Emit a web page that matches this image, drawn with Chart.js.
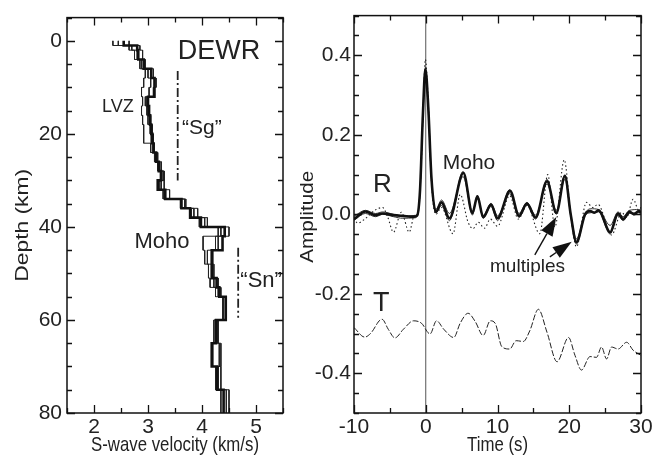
<!DOCTYPE html>
<html><head><meta charset="utf-8">
<script src="https://cdn.jsdelivr.net/npm/chart.js@4.4.0/dist/chart.umd.min.js"></script>
<style>
html,body{margin:0;padding:0;background:#fff;}
#wrap{position:relative;width:667px;height:455px;overflow:hidden;background:#fff;}
canvas{position:absolute;top:0;}
</style></head><body>
<div id="wrap">
<canvas id="left" width="300" height="455" style="left:0px"></canvas>
<canvas id="right" width="377" height="455" style="left:290px"></canvas>
</div>
<script>
// ---------- Left panel: S-wave velocity models (step profiles) ----------
const layerTops = [0,1,2,4,6,8,10,12,14,16,18,20,22,24,26,28,30,32,34,36,38,40,42,45,48,51,53,55,60,65,70,75];
const modelBottom = 80;
const velThick = [2.55,2.80,2.82,2.92,3.06,3.12,3.12,3.00,3.02,3.04,3.06,3.08,3.10,3.15,3.20,3.24,3.18,3.32,3.62,3.78,3.98,4.42,4.38,4.18,4.18,4.27,4.32,4.44,4.26,4.18,4.28,4.40];
const velThinB = [2.45,2.70,2.80,2.95,3.10,3.15,3.10,2.95,2.98,3.05,3.08,3.10,3.12,3.18,3.25,3.30,3.22,3.30,3.68,3.85,4.05,4.50,4.30,4.20,4.22,4.30,4.35,4.40,4.28,4.32,4.35,4.50];
const velThinC = [2.35,2.65,2.75,2.85,2.95,2.92,2.88,2.90,2.88,2.90,2.92,2.92,3.05,3.12,3.18,3.28,3.30,3.28,3.60,3.80,3.95,4.30,4.02,4.05,4.12,4.15,4.25,4.38,4.22,4.20,4.30,4.45];
const velThinD = [2.65,2.85,2.90,2.88,3.00,3.05,3.02,2.98,3.00,3.00,3.04,3.06,3.10,3.16,3.22,3.30,3.25,3.40,3.70,3.92,4.10,4.35,4.25,4.10,4.20,4.22,4.30,4.45,4.30,4.35,4.25,4.35];
const sgVel = 3.55, sgDepths = [6.5, 30];
const snVel = 4.67, snDepths = [44.5, 59.5];
const velTickLabels = [2,3,4,5];
const depthTickLabels = [0,20,40,60,80];

// ---------- Right panel: receiver functions ----------
const rThickT = [-10,-8.4,-7,-6,-4.5,-3.2,-1.6,-1.2,-0.8,-0.4,-0.05,0.35,0.8,1.4,2.2,3.3,5.25,6.5,7.2,8.0,9.1,10.0,11.75,13.0,14.1,15.3,16.9,18.2,19.4,20.2,21.0,22.2,22.9,23.5,24.1,25.7,26.8,27.5,28.4,29.0,29.7,30];
const rThickA = [-0.012,0.007,-0.002,0.002,-0.002,-0.004,-0.006,-0.003,0.06,0.25,0.365,0.27,0.09,0.006,0.03,-0.01,0.104,0.003,0.045,-0.007,0.024,-0.01,0.059,-0.004,0.027,-0.008,0.083,0.004,0.096,0.0,-0.07,0.0,0.008,0.004,0.01,-0.045,0.002,-0.012,0.006,0.0,0.008,0.004];
const rThin1T = [-10,-8.4,-7,-6,-4.5,-3.2,-1.6,-1.2,-0.8,-0.4,-0.05,0.35,0.8,1.4,2.2,3.3,5.2,6.5,7.2,8.0,9.1,10.0,11.7,13.0,14.1,15.3,16.9,18.2,19.4,20.2,21.0,22.2,23.0,24.1,25.7,26.8,27.5,28.4,29.7,30];
const rThin1A = [-0.005,0.01,0.002,0.006,0.0,-0.004,-0.003,0.0,0.055,0.24,0.355,0.26,0.085,0.012,0.036,0.002,0.095,0.008,0.04,-0.003,0.028,-0.004,0.052,0.002,0.03,-0.002,0.076,0.01,0.088,0.0,-0.062,0.002,0.014,0.012,-0.028,0.006,-0.006,0.01,0.012,0.01];
const rThin2A = [-0.015,0.002,-0.006,0.0,-0.006,-0.01,-0.009,-0.005,0.062,0.255,0.37,0.275,0.095,0.004,0.022,-0.016,0.108,-0.002,0.048,-0.01,0.02,-0.016,0.062,-0.008,0.024,-0.012,0.088,0.0,0.1,-0.005,-0.075,-0.004,0.004,0.006,-0.05,-0.002,-0.016,0.002,0.004,0.0];
const rDotT = [-10,-9.5,-8.5,-7.1,-6.0,-5.3,-4.5,-3.4,-2.3,-1.6,-1.1,-0.7,-0.35,-0.05,0.35,0.8,1.4,2.2,3.8,4.8,5.9,6.6,7.3,8.2,9.0,10.0,11.7,12.9,14.1,15.9,17.0,18.0,19.3,20.2,21.0,22.4,23.3,24.0,25.9,27.3,28.0,28.9,29.8,30];
const rDotA = [-0.01,-0.022,-0.012,0.01,0.017,-0.007,-0.045,0.005,-0.045,-0.003,0.0,0.09,0.27,0.39,0.28,0.08,0.0,0.017,-0.049,0.05,-0.02,-0.036,-0.02,-0.035,-0.012,-0.03,0.047,-0.012,0.022,-0.049,0.1,-0.032,0.137,0.0,-0.082,0.03,0.017,0.025,-0.052,0.005,-0.008,0.038,0.005,0.02];
const tTraceT = [-10,-8.5,-7.7,-6.1,-5.2,-4.3,-3.1,-1.7,-0.6,0.6,1.5,2.5,3.9,4.8,5.9,6.9,8.0,9.0,9.7,10.6,11.7,12.6,13.6,14.5,15.7,16.9,18.3,19.9,20.8,21.7,22.9,23.8,24.5,25.2,25.9,26.8,28.0,28.9,30];
const tTraceA = [-0.285,-0.309,-0.30,-0.264,-0.29,-0.311,-0.289,-0.268,-0.274,-0.301,-0.268,-0.289,-0.31,-0.274,-0.249,-0.27,-0.305,-0.268,-0.275,-0.333,-0.339,-0.318,-0.32,-0.293,-0.239,-0.297,-0.371,-0.31,-0.355,-0.392,-0.358,-0.36,-0.334,-0.364,-0.334,-0.339,-0.322,-0.342,-0.355];
const timeTickLabels = [-10,0,10,20,30];
const ampTickLabels = [-0.4,-0.2,0.0,0.2,0.4];

// annotations: [text, x(data), y(data), fontSize, hScale]
const leftNotes = [["DEWR",3.55,4.0,27,1.0],["LVZ",2.15,15.2,18,1.0],["\u201CSg\u201D",3.63,20.0,21,1.0],["Moho",2.75,44.5,22,1.0],["\u201CSn\u201D",4.71,53.0,22,1.0]];
const rightNotes = [["R",-7.35,0.055,26,1.0],["Moho",2.37,0.115,21,1.0],["multiples",8.96,-0.144,19,1.0],["T",-7.35,-0.243,27,1.0]];
// arrows: [tailX, tailY, tipX, tipY] in data units
const arrows = [[15.2,-0.102,18.2,-0.007],[17.3,-0.107,20.35,-0.069]];

const FONT = "'Liberation Sans', Arial, Helvetica, sans-serif";
Chart.defaults.font.family = FONT;
Chart.defaults.color = '#222';

function stepPoints(vels){
  const pts=[];
  for(let i=0;i<layerTops.length;i++){
    const top=layerTops[i], bot=(i+1<layerTops.length)?layerTops[i+1]:modelBottom;
    pts.push({x:vels[i],y:top},{x:vels[i],y:bot});
  }
  return pts;
}
function zip(ts,as){ return ts.map((t,i)=>({x:t,y:as[i]})); }

function drawText(ctx,str,x,y,size,o){
  o=o||{};
  ctx.save();
  ctx.translate(x,y);
  if(o.rot) ctx.rotate(o.rot);
  ctx.scale(o.sx||1,1);
  ctx.font = size+"px "+FONT;
  ctx.textAlign = o.align||'left';
  ctx.textBaseline = 'alphabetic';
  ctx.fillStyle = '#222';
  ctx.fillText(str,0,0);
  ctx.restore();
}

function framePlugin(cfg){
  return {
    id:'frame_'+cfg.name,
    afterDraw(chart){
      const ctx=chart.ctx, a=chart.chartArea, xs=chart.scales.x, ys=chart.scales.y;
      ctx.save();
      ctx.strokeStyle='#111';
      ctx.lineWidth=1.5;
      ctx.strokeRect(a.left,a.top,a.right-a.left,a.bottom-a.top);
      ctx.lineWidth=1.3;
      ctx.beginPath();
      xs.ticks.forEach(t=>{
        const p=Math.round(xs.getPixelForValue(t.value))+0.5;
        const L=cfg.isMajorX(t.value)?8:5;
        ctx.moveTo(p,a.bottom); ctx.lineTo(p,a.bottom-L);
        ctx.moveTo(p,a.top); ctx.lineTo(p,a.top+L);
      });
      ys.ticks.forEach(t=>{
        const p=Math.round(ys.getPixelForValue(t.value))+0.5;
        const L=cfg.isMajorY(t.value)?8:5;
        ctx.moveTo(a.left,p); ctx.lineTo(a.left+L,p);
        ctx.moveTo(a.right,p); ctx.lineTo(a.right-L,p);
      });
      ctx.stroke();
      // notes
      cfg.notes.forEach(n=>{
        drawText(ctx,n[0],xs.getPixelForValue(n[1]),ys.getPixelForValue(n[2]),n[3],{sx:n[4]});
      });
      // axis titles
      const cx=(a.left+a.right)/2, cy=(a.top+a.bottom)/2;
      drawText(ctx,cfg.xTitle,cx,451,21,{align:'center',sx:0.8});
      drawText(ctx,cfg.yTitle,cfg.yTitleX,cy+cfg.yTitleDy,cfg.yTitleSize,{align:'center',rot:-Math.PI/2,sx:cfg.yTitleSx});
      // arrows
      (cfg.arrows||[]).forEach(ar=>{
        const x0=xs.getPixelForValue(ar[0]), y0=ys.getPixelForValue(ar[1]);
        const x1=xs.getPixelForValue(ar[2]), y1=ys.getPixelForValue(ar[3]);
        const ang=Math.atan2(y1-y0,x1-x0), HL=19, HW=6.5;
        const bx=x1-HL*Math.cos(ang), by=y1-HL*Math.sin(ang);
        ctx.strokeStyle='#111'; ctx.lineWidth=1.4;
        ctx.beginPath(); ctx.moveTo(x0,y0); ctx.lineTo(bx,by); ctx.stroke();
        ctx.fillStyle='#111';
        ctx.beginPath();
        ctx.moveTo(x1,y1);
        ctx.lineTo(bx+HW*Math.sin(ang),by-HW*Math.cos(ang));
        ctx.lineTo(bx-HW*Math.sin(ang),by+HW*Math.cos(ang));
        ctx.closePath(); ctx.fill();
      });
      ctx.restore();
    }
  };
}

const isInt = v => Math.abs(v-Math.round(v))<1e-6;

// ---------- Left chart ----------
const stepDs = (data,w,color)=>({data,showLine:true,borderColor:color,borderWidth:w,pointRadius:0,tension:0,fill:false});
new Chart(document.getElementById('left'),{
  type:'scatter',
  data:{datasets:[
    stepDs(stepPoints(velThick),2.6,'#111'),
    stepDs(stepPoints(velThinB),1,'#222'),
    stepDs(stepPoints(velThinC),1,'#222'),
    stepDs(stepPoints(velThinD),1,'#222'),
    {data:sgDepths.map(d=>({x:sgVel,y:d})),showLine:true,borderColor:'#222',borderWidth:1.8,borderDash:[9,3,2,3],pointRadius:0},
    {data:snDepths.map(d=>({x:snVel,y:d})),showLine:true,borderColor:'#222',borderWidth:1.8,borderDash:[9,3,2,3],pointRadius:0}
  ]},
  options:{
    responsive:false,animation:false,
    layout:{padding:{top:10,right:17,left:0,bottom:0}},
    plugins:{legend:{display:false},tooltip:{enabled:false}},
    scales:{
      x:{type:'linear',min:1.5,max:5.5,
        grid:{display:false,drawTicks:false},border:{display:false},
        ticks:{stepSize:0.5,autoSkip:false,maxRotation:0,padding:2,font:{size:21},color:'#222',
          callback:v=>velTickLabels.some(l=>Math.abs(l-v)<1e-6)?String(Math.round(v)):''},
        afterFit:s=>{s.height=42;}},
      y:{type:'linear',min:-5,max:80,reverse:true,
        grid:{display:false,drawTicks:false},border:{display:false},
        ticks:{stepSize:5,autoSkip:false,padding:5,font:{size:21},color:'#222',
          callback:v=>depthTickLabels.some(l=>Math.abs(l-v)<1e-6)?String(Math.round(v)):''},
        afterFit:s=>{s.width=67;}}
    }
  },
  plugins:[framePlugin({name:'L',notes:leftNotes,xTitle:'S-wave velocity (km/s)',yTitle:'Depth (km)',
    yTitleX:28,yTitleDy:10,yTitleSize:19,yTitleSx:1.2,
    isMajorX:v=>isInt(v),isMajorY:v=>depthTickLabels.some(l=>Math.abs(l-v)<1e-6)})]
});

// ---------- Right chart ----------
const lineDs=(data,w,color,dash)=>({data,showLine:true,borderColor:color,borderWidth:w,pointRadius:0,cubicInterpolationMode:'monotone',borderDash:dash||[],fill:false});
new Chart(document.getElementById('right'),{
  type:'scatter',
  data:{datasets:[
    lineDs(zip(rThickT,rThickA),2.6,'#111'),
    lineDs(zip(rThin1T,rThin1A),1,'#333'),
    lineDs(zip(rThin1T,rThin2A),1,'#333'),
    lineDs(zip(rDotT,rDotA),1.1,'#222',[1.5,2.5]),
    lineDs(zip(tTraceT,tTraceA),1,'#222',[6,2]),
    {data:[{x:0,y:-0.5},{x:0,y:0.5}],showLine:true,borderColor:'#555',borderWidth:1,pointRadius:0}
  ]},
  options:{
    responsive:false,animation:false,
    layout:{padding:{top:10,right:26,left:0,bottom:0}},
    plugins:{legend:{display:false},tooltip:{enabled:false}},
    scales:{
      x:{type:'linear',min:-10,max:30,
        grid:{display:false,drawTicks:false},border:{display:false},
        ticks:{stepSize:5,autoSkip:false,maxRotation:0,padding:2,font:{size:21},color:'#222',
          callback:v=>timeTickLabels.some(l=>Math.abs(l-v)<1e-6)?String(Math.round(v)):''},
        afterFit:s=>{s.height=42;}},
      y:{type:'linear',min:-0.5,max:0.5,
        grid:{display:false,drawTicks:false},border:{display:false},
        ticks:{stepSize:0.05,autoSkip:false,padding:3,font:{size:21},color:'#222',
          callback:v=>ampTickLabels.some(l=>Math.abs(l-v)<1e-6)?(Math.round(v*10)/10).toFixed(1):''},
        afterFit:s=>{s.width=64;}}
    }
  },
  plugins:[framePlugin({name:'R',notes:rightNotes,xTitle:'Time (s)',yTitle:'Amplitude',arrows:arrows,
    yTitleX:23,yTitleDy:2.5,yTitleSize:19,yTitleSx:1.09,
    isMajorX:v=>timeTickLabels.some(l=>Math.abs(l-v)<1e-6),isMajorY:v=>ampTickLabels.some(l=>Math.abs(l-v)<1e-6)})]
});
</script>
</body></html>
